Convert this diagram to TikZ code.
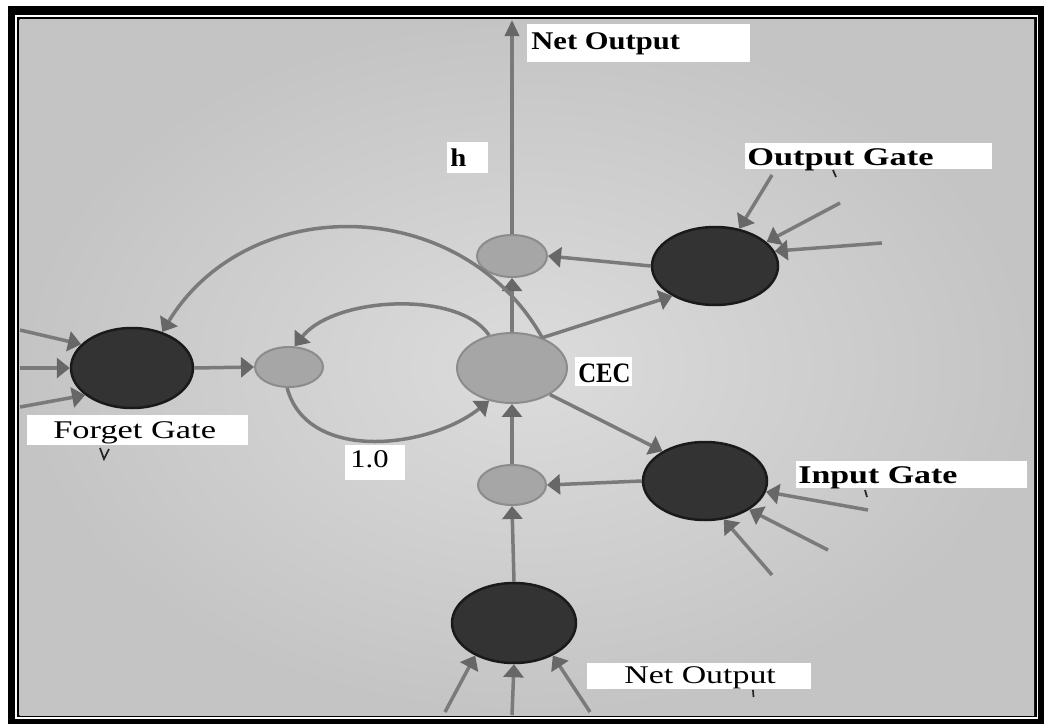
\documentclass[tikz,border=0pt]{standalone}
\usepackage{fontspec}
\setmainfont{Liberation Serif}
\usetikzlibrary{shapes.geometric,arrows.meta}
\definecolor{linec}{HTML}{7A7A7A}
\definecolor{arrc}{HTML}{676767}
\definecolor{darkf}{HTML}{333333}
\definecolor{darkd}{HTML}{1A1A1A}
\definecolor{lightf}{HTML}{A6A6A6}
\definecolor{lightd}{HTML}{8C8C8C}
\definecolor{bgin}{HTML}{DCDCDC}
\definecolor{bgout}{HTML}{C4C4C4}
\begin{document}
\begin{tikzpicture}[x=0.02cm,y=-0.02cm,
  darknode/.style={ellipse,fill=darkf,draw=darkd,line width=0.05cm,inner sep=0},
  lightnode/.style={ellipse,fill=lightf,draw=lightd,line width=0.04cm,inner sep=0},
  conn/.style={draw=linec,line width=0.07cm},
  arr/.style={conn,-{Triangle[width=0.4cm,length=0.26cm,color=arrc]}},
  toparr/.style={conn,-{Triangle[width=0.28cm,length=0.32cm,color=arrc]}},
  lbl/.style={anchor=base west,inner sep=0,font=\fontsize{14.5}{16}\selectfont},
  boxc/.style={fill=white},
  stray/.style={draw=black!85,line width=0.035cm}]
\useasboundingbox (0,0) rectangle (1044,724);
% frame
\fill[black] (8,6) rectangle (1044,724);
\fill[white] (15,15) rectangle (1038,718.5);
\fill[black] (16.5,16.5) rectangle (1036.5,717);
\shade[inner color=bgin,outer color=bgout] (19.5,19) rectangle (1034,715);
% label boxes
\fill[boxc] (527,24) rectangle (750,62);
\fill[boxc] (447,142) rectangle (488,173);
\fill[boxc] (745,143) rectangle (992,169);
\fill[boxc] (575,357) rectangle (632,386);
\fill[boxc] (27,415) rectangle (248,445);
\fill[boxc] (345,445) rectangle (405,480);
\fill[boxc] (796,461) rectangle (1027,488);
\fill[boxc] (587,663) rectangle (811,689);
% nodes
\node[darknode,minimum width=2.52cm,minimum height=1.56cm] (outg) at (715,266) {};
\node[darknode,minimum width=2.48cm,minimum height=1.56cm] (ing) at (705,481) {};
\node[darknode,minimum width=2.44cm,minimum height=1.6cm] (forg) at (132,368) {};
\node[darknode,minimum width=2.48cm,minimum height=1.6cm] (netin) at (514,623) {};
\node[lightnode,minimum width=2.2cm,minimum height=1.4cm] (cec) at (512,368) {};
\node[lightnode,minimum width=1.4cm,minimum height=0.84cm] (mo) at (512,256) {};
\node[lightnode,minimum width=1.36cm,minimum height=0.8cm] (mf) at (289,367) {};
\node[lightnode,minimum width=1.36cm,minimum height=0.8cm] (mi) at (512,485) {};
% free ends
\coordinate (topend) at (512,20);
\coordinate (o1) at (772,175);
\coordinate (o2) at (840,203);
\coordinate (o3) at (882,243);
\coordinate (i1) at (868,510);
\coordinate (i2) at (828,550);
\coordinate (i3) at (772,575);
\coordinate (f1) at (20,330);
\coordinate (f2) at (20,368);
\coordinate (f3) at (20,407);
\coordinate (n1) at (445,712);
\coordinate (n2) at (512,715);
\coordinate (n3) at (590,712);
% connectors
\draw[toparr] (mo.north) -- (topend);
\draw[arr] (cec.north) -- (mo.south);
\draw[arr] (outg.west) -- (mo.east);
\draw[arr] (cec.45) -- (outg.215);
\draw[arr] (cec.-35) -- (ing.145);
\draw[arr] (ing.west) -- (mi.east);
\draw[arr] (mi.north) -- (cec.south);
\draw[arr] (netin.north) -- (mi.south);
\draw[arr] (forg.east) -- (mf.west);
\draw[arr] (mf.265) .. controls +(20,75) and +(-60,48) .. (cec.235);
\draw[arr] (cec.125) .. controls +(-30,-45) and +(40,-50) .. (mf.75);
\draw[arr] (cec.45) .. controls +(-81,-144) and +(86,-141) .. (forg.50);
\draw[arr] (o1) -- (outg.57);
\draw[arr] (o2) -- (outg.25);
\draw[arr] (o3) -- (outg.14);
\draw[arr] (i1) -- (ing.-10);
\draw[arr] (i2) -- (ing.-33);
\draw[arr] (i3) -- (ing.-64);
\draw[arr] (f1) -- (forg.155);
\draw[arr] (f2) -- (forg.180);
\draw[arr] (f3) -- (forg.210);
\draw[arr] (n1) -- (netin.220);
\draw[arr] (n2) -- (netin.270);
\draw[arr] (n3) -- (netin.320);
% labels
\node[lbl] (tno) at (531,49) {\scalebox{1.2}[1]{\bfseries Net Output}};
\node[lbl] (th) at (450,166) {\scalebox{1.13}[1]{\bfseries h}};
\node[lbl] (tog) at (747,165) {\scalebox{1.35}[1]{\bfseries Output Gate}};
\node[lbl,font=\fontsize{16}{18}\selectfont] (tcec) at (578,382) {\scalebox{0.88}[1]{\bfseries CEC}};
\node[lbl] (tfg) at (53,438) {\scalebox{1.35}[1]{Forget Gate}};
\node[lbl] (tone) at (350,467) {\scalebox{1.2}[1]{1.0}};
\node[lbl] (tig) at (798,483) {\scalebox{1.33}[1]{\bfseries Input Gate}};
\node[lbl] (tbn) at (624,683) {\scalebox{1.33}[1]{Net Output}};
% stray pen marks
\draw[stray] (833,170) -- (836,177);
\draw[stray] (100,448) -- (104,459) -- (109,449);
\draw[stray] (865,490) -- (867,497);
\draw[stray] (753,690) -- (753.5,697);
\end{tikzpicture}
\end{document}
